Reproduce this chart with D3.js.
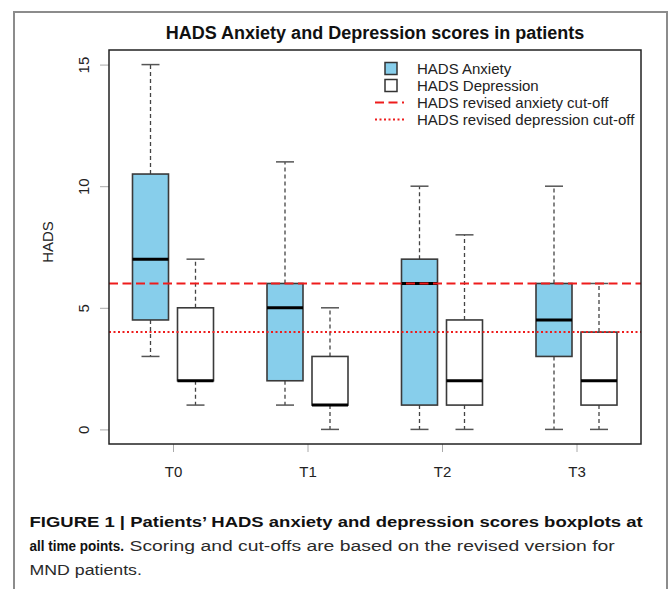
<!DOCTYPE html>
<html>
<head>
<meta charset="utf-8">
<script src="https://cdn.jsdelivr.net/npm/d3@7"></script>
<style>
  html, body { margin: 0; padding: 0; background: #fff; }
  svg { display: block; }
  text { font-family: "Liberation Sans", Arial, Helvetica, sans-serif; }
</style>
</head>
<body>
<svg id="chart" width="669" height="589"></svg>
<script>
// ---- Data ----
const categories = ["T0", "T1", "T2", "T3"];
const anxMin = [3, 1, 0, 0];
const anxQ1  = [4.5, 2, 1, 3];
const anxMed = [7, 5, 6, 4.5];
const anxQ3  = [10.5, 6, 7, 6];
const anxMax = [15, 11, 10, 10];
const depMin = [1, 0, 0, 0];
const depQ1  = [2, 1, 1, 1];
const depMed = [2, 1, 2, 2];
const depQ3  = [5, 3, 4.5, 4];
const depMax = [7, 5, 8, 6];
const anxietyCutoff = 6;
const depressionCutoff = 4;
const yTicks = [0, 5, 10, 15];
const legendLabels = ["HADS Anxiety", "HADS Depression", "HADS revised anxiety cut-off", "HADS revised depression cut-off"];
const titleText = "HADS Anxiety and Depression scores in patients";
const yLabel = "HADS";

// ---- Layout ----
const svg = d3.select("#chart");
const plot = { left: 109, right: 641, top: 50, bottom: 444 };
const y = d3.scaleLinear().domain([-0.6, 15.6]).range([plot.bottom, plot.top]);
const x = d3.scalePoint().domain(categories).range([173, 576.5]);
const offset = 22.5, boxW = 36, capW = 18;
const anxColor = "#87CEEB";

// outer figure frame
svg.append("path")
  .attr("d", "M14,600 L14,12 L667,12 L667,600")
  .attr("fill", "none").attr("stroke", "#8c8c8c").attr("stroke-width", 2);

// title
svg.append("text").attr("x", (plot.left + plot.right) / 2).attr("y", 39)
  .attr("text-anchor", "middle").attr("font-weight", "bold").attr("font-size", 18)
  .attr("fill", "#111").text(titleText);

// y axis
const yAxis = svg.append("g").attr("transform", `translate(${plot.left - 9},0)`)
  .call(d3.axisLeft(y).tickValues(yTicks).tickSize(0).tickPadding(0).tickFormat(d3.format("d")));
yAxis.select(".domain").remove();
yAxis.selectAll(".tick line").remove();
yAxis.selectAll(".tick").append("line").attr("x1", 0).attr("x2", 9).attr("stroke", "#aaa").attr("stroke-width", 1);
yAxis.selectAll(".tick text")
  .attr("x", null).attr("dy", null)
  .attr("transform", "translate(-11,0) rotate(-90)")
  .attr("text-anchor", "middle").attr("font-size", 15).attr("fill", "#222")
  .attr("font-family", "Liberation Sans, Arial, sans-serif");

// y label
svg.append("text").attr("transform", "translate(53,242) rotate(-90)")
  .attr("text-anchor", "middle").attr("font-size", 15).attr("fill", "#222").text(yLabel);

// x axis
const xAxis = svg.append("g").attr("transform", `translate(0,${plot.bottom})`)
  .call(d3.axisBottom(x).tickSize(8).tickPadding(0));
xAxis.select(".domain").remove();
xAxis.selectAll(".tick line").attr("stroke", "#aaa").attr("stroke-width", 1);
xAxis.selectAll(".tick text").attr("y", 33).attr("dy", null)
  .attr("font-size", 15).attr("fill", "#222")
  .attr("font-family", "Liberation Sans, Arial, sans-serif");

// boxes
function drawBoxes(cls, mins, q1s, meds, q3s, maxs, dx, fill) {
  const data = categories.map((c, i) => ({ c, min: mins[i], q1: q1s[i], med: meds[i], q3: q3s[i], max: maxs[i] }));
  const g = svg.append("g").attr("class", cls);
  const grp = g.selectAll("g").data(data).join("g")
    .attr("transform", d => `translate(${x(d.c) + dx},0)`);
  grp.append("line").attr("x1", 0).attr("x2", 0).attr("y1", d => y(d.q3)).attr("y2", d => y(d.max))
    .attr("stroke", "#444").attr("stroke-width", 1.3).attr("stroke-dasharray", "4,3");
  grp.append("line").attr("x1", 0).attr("x2", 0).attr("y1", d => y(d.q1)).attr("y2", d => y(d.min))
    .attr("stroke", "#444").attr("stroke-width", 1.3).attr("stroke-dasharray", "4,3");
  grp.append("line").attr("x1", -capW / 2).attr("x2", capW / 2).attr("y1", d => y(d.max)).attr("y2", d => y(d.max))
    .attr("stroke", "#555").attr("stroke-width", 1.5);
  grp.append("line").attr("x1", -capW / 2).attr("x2", capW / 2).attr("y1", d => y(d.min)).attr("y2", d => y(d.min))
    .attr("stroke", "#555").attr("stroke-width", 1.5);
  grp.append("rect").attr("x", -boxW / 2).attr("width", boxW)
    .attr("y", d => y(d.q3)).attr("height", d => y(d.q1) - y(d.q3))
    .attr("fill", fill).attr("stroke", "#3a3a3a").attr("stroke-width", 1.6);
  grp.append("line").attr("x1", -boxW / 2).attr("x2", boxW / 2).attr("y1", d => y(d.med)).attr("y2", d => y(d.med))
    .attr("stroke", "#000").attr("stroke-width", 3);
}
drawBoxes("anx", anxMin, anxQ1, anxMed, anxQ3, anxMax, -offset, anxColor);
drawBoxes("dep", depMin, depQ1, depMed, depQ3, depMax, offset, "#fff");

// cut-off lines
svg.append("line").attr("x1", plot.left).attr("x2", plot.right)
  .attr("y1", y(anxietyCutoff)).attr("y2", y(anxietyCutoff))
  .attr("stroke", "#ee1c1c").attr("stroke-width", 2).attr("stroke-dasharray", "9,4.5");
svg.append("line").attr("x1", plot.left).attr("x2", plot.right)
  .attr("y1", y(depressionCutoff)).attr("y2", y(depressionCutoff))
  .attr("stroke", "#ee1c1c").attr("stroke-width", 2).attr("stroke-dasharray", "2,2.5");

// plot frame
svg.append("rect").attr("x", plot.left).attr("y", plot.top)
  .attr("width", plot.right - plot.left).attr("height", plot.bottom - plot.top)
  .attr("fill", "none").attr("stroke", "#222").attr("stroke-width", 1.5);

// legend
const lg = svg.append("g");
const rowY = [68.5, 85.5, 102.5, 119.5];
lg.selectAll("text").data(legendLabels).join("text")
  .attr("x", 417).attr("y", (d, i) => rowY[i] + 5.3)
  .attr("font-size", 15).attr("fill", "#222").text(d => d);
lg.append("rect").attr("x", 385).attr("y", rowY[0] - 6).attr("width", 12).attr("height", 12)
  .attr("fill", anxColor).attr("stroke", "#333").attr("stroke-width", 1.5);
lg.append("rect").attr("x", 385).attr("y", rowY[1] - 6).attr("width", 12).attr("height", 12)
  .attr("fill", "#fff").attr("stroke", "#333").attr("stroke-width", 1.5);
lg.append("line").attr("x1", 375).attr("x2", 404).attr("y1", rowY[2]).attr("y2", rowY[2])
  .attr("stroke", "#ee1c1c").attr("stroke-width", 2).attr("stroke-dasharray", "9,4.5");
lg.append("line").attr("x1", 375).attr("x2", 404).attr("y1", rowY[3]).attr("y2", rowY[3])
  .attr("stroke", "#ee1c1c").attr("stroke-width", 2).attr("stroke-dasharray", "2,2.5");

// caption (horizontally scaled to the reference's condensed widths)
const cap = svg.append("g");
function capLine(txt, x0, y0, width, bold, color) {
  const t = cap.append("text").attr("x", 0).attr("y", 0).attr("font-size", 15.5)
    .attr("font-weight", bold ? "bold" : "normal").attr("fill", color).text(txt);
  const w = t.node().getComputedTextLength();
  t.attr("transform", `translate(${x0},${y0}) scale(${width / w},1)`);
}
capLine("FIGURE 1 | Patients\u2019 HADS anxiety and depression scores boxplots at", 29.5, 527, 614, true, "#111");
capLine("all time points.", 29.5, 551, 94.5, true, "#111");
capLine("Scoring and cut-offs are based on the revised version for", 129.5, 551, 485.5, false, "#2a2a2a");
capLine("MND patients.", 29.5, 574.5, 112.5, false, "#2a2a2a");
</script>
</body>
</html>
